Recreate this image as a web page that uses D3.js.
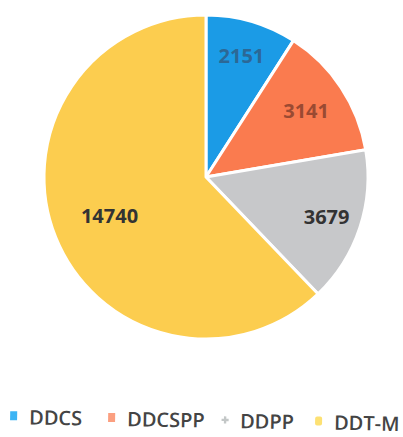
<html>
<head>
<style>
body { margin:0; background:#ffffff; }
svg { display:block; }
</style>
<script src="https://d3js.org/d3.v7.min.js"></script>
</head>
<body>
<svg id="chart" width="403" height="437"></svg>
<script>
var categories = ["DDCS", "DDCSPP", "DDPP", "DDT-M"];
var values = [2151, 3141, 3679, 14740];
var sliceColors = ["#1b9be6", "#fa7b4f", "#c7c8ca", "#fccd4f"];
var legendColors = ["#3cb4f4", "#fb9f80", "#c3c7c7", "#fde173"];
var labelColors = ["#2c6896", "#9a4a32", "#333333", "#333333"];

var cx = 206, cy = 177, r = 162;
var labelRadius = [126, 120, 127, 104];
var svg = d3.select("#chart");

var data = categories.map(function(c, i) { return {name: c, value: values[i], i: i}; });

var pie = d3.pie().sort(null).value(function(d) { return d.value; });
var arc = d3.arc().innerRadius(0).outerRadius(r);

var g = svg.append("g").attr("transform", "translate(" + cx + "," + cy + ")");

g.selectAll("path").data(pie(data)).enter().append("path")
	.attr("d", arc)
	.attr("fill", function(d) { return sliceColors[d.data.i]; })
	.attr("stroke", "#ffffff")
	.attr("stroke-width", 3)
	.attr("stroke-linejoin", "round");

g.selectAll("text").data(pie(data)).enter().append("text")
	.attr("transform", function(d) {
		var lr = labelRadius[d.data.i];
		return "translate(" + d3.arc().innerRadius(lr).outerRadius(lr).centroid(d) + ")";
	})
	.attr("text-anchor", "middle")
	.attr("dy", "0.35em")
	.style("font-family", "'Open Sans', sans-serif")
	.style("font-weight", "700")
	.style("font-size", "20px")
	.attr("fill", function(d) { return labelColors[d.data.i]; })
	.text(function(d) { return d.data.value; });

// legend, slightly tilted like the scan
var legendX = [10, 108, 221, 315];
var legend = svg.append("g").attr("transform", "translate(0,424) rotate(1)");
var items = legend.selectAll("g").data(data).enter().append("g")
	.attr("transform", function(d) { return "translate(" + legendX[d.i] + ",0)"; });

items.filter(function(d) { return d.i != 2; }).append("rect")
	.attr("x", 0).attr("y", -13)
	.attr("width", 7).attr("height", 9)
	.attr("rx", function(d) { return d.i == 3 ? 2 : 0; })
	.attr("fill", function(d) { return legendColors[d.i]; });

items.filter(function(d) { return d.i == 2; }).append("path")
	.attr("d", d3.symbol().type(d3.symbolCross).size(28))
	.attr("transform", "translate(4,-8)")
	.attr("fill", function(d) { return legendColors[d.i]; });

items.append("text")
	.attr("x", 19)
	.attr("y", 0)
	.style("font-family", "'Open Sans', sans-serif")
	.style("font-weight", "600")
	.style("font-size", "20px")
	.attr("fill", "#444444")
	.text(function(d) { return d.name; });
</script>
</body>
</html>
